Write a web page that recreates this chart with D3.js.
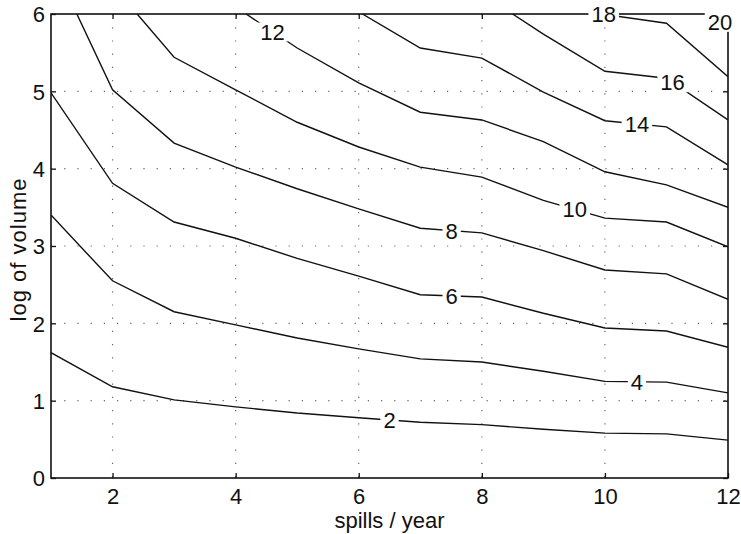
<!DOCTYPE html>
<html>
<head>
<meta charset="utf-8">
<script src="https://cdn.jsdelivr.net/npm/d3@7"></script>
<style>
  body { margin: 0; background: #fff; }
  text { font-family: "Liberation Sans", Arial, Helvetica, sans-serif; fill: #111; }
</style>
</head>
<body>
<div id="chart"></div>
<script>
// contour levels and the labels' x position along each line
var levels = [2, 4, 6, 8, 10, 12, 14, 16, 18, 20];
var labelX = [6.5, 10.52, 7.51, 7.51, 9.51, 4.6, 10.52, 11.1, 9.98, 11.87];

// contour lines, [spills/year, log of volume]
var contour2 = [[1,1.62],[2,1.18],[3,1.01],[4,0.92],[5,0.84],[6,0.78],[7,0.72],[8,0.69],[9,0.63],[10,0.58],[11,0.57],[12,0.49]];
var contour4 = [[1,3.40],[2,2.55],[3,2.15],[4,1.98],[5,1.81],[6,1.67],[7,1.54],[8,1.50],[9,1.38],[10,1.25],[11,1.24],[12,1.10]];
var contour6 = [[1,4.98],[2,3.81],[3,3.31],[4,3.10],[5,2.84],[6,2.61],[7,2.37],[8,2.34],[9,2.13],[10,1.94],[11,1.90],[12,1.69]];
var contour8 = [[1.42,6],[2,5.02],[3,4.33],[4,4.02],[5,3.74],[6,3.48],[7,3.23],[8,3.17],[9,2.94],[10,2.69],[11,2.64],[12,2.31]];
var contour10 = [[2.40,6],[3,5.44],[4,5.02],[5,4.60],[6,4.28],[7,4.02],[8,3.89],[9,3.59],[10,3.36],[11,3.31],[12,2.99]];
var contour12 = [[4.17,6],[5,5.56],[6,5.11],[7,4.73],[8,4.63],[9,4.35],[10,3.96],[11,3.79],[12,3.50]];
var contour14 = [[6.06,6],[7,5.56],[8,5.43],[9,4.99],[10,4.62],[11,4.54],[12,4.05]];
var contour16 = [[8.50,6],[9,5.74],[10,5.26],[11,5.17],[12,4.63]];
var contour18 = [[9.95,6],[11,5.88],[12,5.19]];
var contour20 = [[11.7,6],[12,5.82]];

var xTicks = [2, 4, 6, 8, 10, 12];
var yTicks = [0, 1, 2, 3, 4, 5, 6];

var lines = [contour2, contour4, contour6, contour8, contour10, contour12, contour14, contour16, contour18, contour20];

// set the dimensions and margins of the graph
var margin = {top: 14, right: 13, bottom: 56, left: 51},
  width = 741 - margin.left - margin.right,
  height = 534 - margin.top - margin.bottom;

var svg = d3.select("#chart")
  .append("svg")
    .attr("width", 741)
    .attr("height", 534)
  .append("g")
    .attr("transform", "translate(" + margin.left + "," + margin.top + ")");

var x = d3.scaleLinear().domain([1, 12]).range([0, width]);
var y = d3.scaleLinear().domain([0, 6]).range([height, 0]);

svg.append("clipPath").attr("id", "clip")
  .append("rect").attr("width", width).attr("height", height);

// dotted grid
svg.selectAll(".gx")
  .data(xTicks.slice(0, -1))
  .enter().append("line")
    .attr("x1", d => x(d)).attr("x2", d => x(d))
    .attr("y1", 0).attr("y2", height)
    .attr("stroke", "#666").attr("stroke-width", 1.2)
    .attr("stroke-dasharray", "1.2,12");

svg.selectAll(".gy")
  .data(yTicks.slice(1, -1))
  .enter().append("line")
    .attr("y1", d => y(d)).attr("y2", d => y(d))
    .attr("x1", 0).attr("x2", width)
    .attr("stroke", "#666").attr("stroke-width", 1.2)
    .attr("stroke-dasharray", "1.2,12");

// contour lines
var line = d3.line().x(d => x(d[0])).y(d => y(d[1]));

svg.append("g").attr("clip-path", "url(#clip)")
  .selectAll("path")
  .data(lines)
  .enter().append("path")
    .attr("d", line)
    .attr("fill", "none")
    .attr("stroke", "#111")
    .attr("stroke-width", 1.4);

// frame and ticks
svg.append("rect")
  .attr("width", width).attr("height", height)
  .attr("fill", "none").attr("stroke", "#111").attr("stroke-width", 1.6);

var xAxis = svg.append("g")
  .attr("transform", "translate(0," + height + ")")
  .call(d3.axisBottom(x).tickValues(xTicks).tickSizeInner(-5).tickSizeOuter(0).tickPadding(10));
var xTop = svg.append("g")
  .call(d3.axisTop(x).tickValues(xTicks).tickSizeInner(-5).tickSizeOuter(0).tickFormat(""));
var yAxis = svg.append("g")
  .call(d3.axisLeft(y).tickValues(yTicks).tickSizeInner(-5).tickSizeOuter(0).tickPadding(6).tickFormat(d3.format("d")));
var yRight = svg.append("g")
  .attr("transform", "translate(" + width + ",0)")
  .call(d3.axisRight(y).tickValues(yTicks).tickSizeInner(-5).tickSizeOuter(0).tickFormat(""));

[xAxis, xTop, yAxis, yRight].forEach(a => {
  a.select(".domain").remove();
  a.selectAll("line").attr("stroke", "#111").attr("stroke-width", 1.3);
  a.selectAll("text").style("font-size", "22px").attr("fill", "#111")
    .style("font-family", "'Liberation Sans', Arial, sans-serif");
});
yAxis.selectAll("text").attr("dy", "0.36em");

// contour labels, breaking the line with a white box
function valueAt(pts, px) {
  if (px <= pts[0][0]) return pts[0][1];
  for (var i = 1; i < pts.length; i++) {
    if (px <= pts[i][0]) {
      var t = (px - pts[i - 1][0]) / (pts[i][0] - pts[i - 1][0]);
      return pts[i - 1][1] + t * (pts[i][1] - pts[i - 1][1]);
    }
  }
  return pts[pts.length - 1][1];
}

var labels = svg.append("g");
levels.forEach((lev, i) => {
  var lx = x(labelX[i]);
  var ly = y(valueAt(lines[i], labelX[i]));
  var g = labels.append("g").attr("transform", "translate(" + lx + "," + ly + ")");
  var bg = g.append("rect").attr("fill", "#fff");
  var t = g.append("text")
    .attr("text-anchor", "middle")
    .attr("dy", "0.36em")
    .style("font-size", "22px")
    .text(lev);
  var bb = t.node().getBBox();
  bg.attr("x", bb.x - 3).attr("y", bb.y + 3)
    .attr("width", bb.width + 6).attr("height", bb.height - 6);
});

// axis titles
svg.append("text")
  .attr("x", width / 2)
  .attr("y", height + 50)
  .attr("text-anchor", "middle")
  .style("font-size", "22px")
  .text("spills / year");

svg.append("text")
  .attr("transform", "translate(" + (26 - margin.left) + "," + (height / 2 + 4) + ") rotate(-90)")
  .attr("text-anchor", "middle")
  .attr("textLength", 143)
  .attr("lengthAdjust", "spacing")
  .style("font-size", "22px")
  .text("log of volume");
</script>
</body>
</html>
